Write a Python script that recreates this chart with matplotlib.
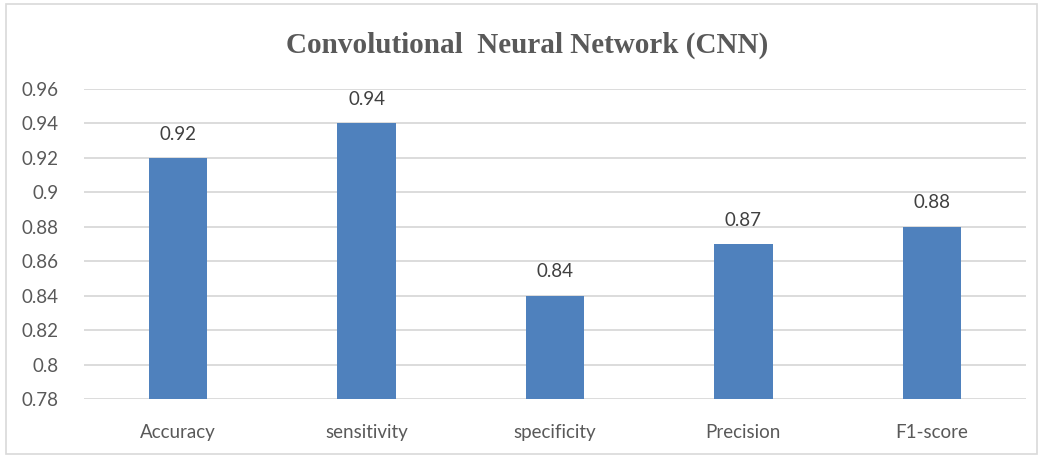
import matplotlib.pyplot as plt
from matplotlib.patches import Rectangle

metrics = ['Accuracy', 'sensitivity', 'specificity', 'Precision', 'F1-score']
scores = [0.92, 0.94, 0.84, 0.87, 0.88]
y_ticks = [0.78, 0.8, 0.82, 0.84, 0.86, 0.88, 0.9, 0.92, 0.94, 0.96]
y_tick_labels = ['0.78', '0.8', '0.82', '0.84', '0.86', '0.88', '0.9', '0.92', '0.94', '0.96']

fig = plt.figure(figsize=(10.43, 4.58), dpi=100)
ax = fig.add_axes([0.0805, 0.1288, 0.9032, 0.6769])

x = range(len(metrics))
bars = ax.bar(x, scores, width=0.31, color='#4f81bd', bottom=0, zorder=3)

ax.set_ylim(0.78, 0.96)
ax.set_xlim(-0.5, len(metrics) - 0.5)
ax.set_yticks(y_ticks)
ax.set_yticklabels(y_tick_labels)
ax.set_xticks(list(x))
ax.set_xticklabels(metrics)

for lab in ax.get_yticklabels() + ax.get_xticklabels():
    lab.set_fontfamily('Lato')
    lab.set_fontsize(13.5)
    lab.set_color('#595959')

ax.tick_params(axis='both', length=0)
ax.tick_params(axis='y', pad=18)
ax.tick_params(axis='x', pad=18)
ax.yaxis.grid(True, color='#d9d9d9', linewidth=1.3, zorder=0)
for s in ax.spines.values():
    s.set_visible(False)

for i, v in enumerate(scores):
    ax.annotate(f'{v:.2f}', (i, v), xytext=(0, 11), textcoords='offset points',
                ha='center', va='bottom', fontsize=13.5, family='Lato', color='#404040')

fig.text(0.505, 0.90, 'Convolutional  Neural Network (CNN)', ha='center', va='center',
         fontsize=21, fontweight='bold', family='Liberation Serif', color='#595959')

fig.patches.append(Rectangle((0.006, 0.009), 0.988, 0.982, transform=fig.transFigure,
                             fill=False, edgecolor='#d9d9d9', linewidth=1.2))

plt.savefig('out.png', dpi=100)
